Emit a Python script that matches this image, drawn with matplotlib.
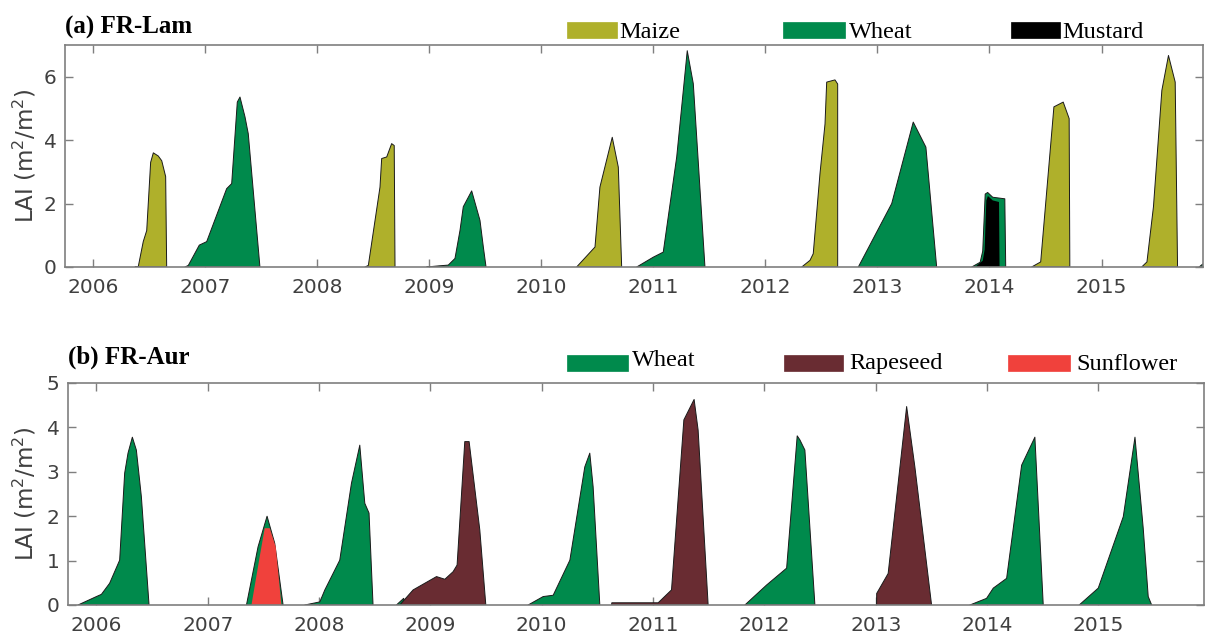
import numpy as np
import matplotlib
matplotlib.use("Agg")
import matplotlib.pyplot as plt
from matplotlib.patches import Rectangle

nan = np.nan

# ---------------- (a) FR-Lam : decimal year / LAI (m2/m2) ----------------
lam_maize_year = [2006.377, 2006.407, 2006.451, 2006.482, 2006.517, 2006.541, 2006.585, 2006.616, 2006.651, 2006.660, nan,
                  2008.429, 2008.459, 2008.563, 2008.578, 2008.623, 2008.667, 2008.690, 2008.697, nan,
                  2010.317, 2010.481, 2010.525, 2010.635, 2010.689, 2010.719, nan,
                  2012.325, 2012.399, 2012.428, 2012.488, 2012.533, 2012.548, 2012.622, 2012.646, nan,
                  2014.376, 2014.457, 2014.575, 2014.658, 2014.711, 2014.717, nan,
                  2015.358, 2015.405, 2015.463, 2015.538, 2015.597, 2015.657, 2015.678]
lam_maize_lai = [0.0, 0.02, 0.8, 1.15, 3.3, 3.6, 3.5, 3.35, 2.85, 0.0, nan,
                 0.0, 0.05, 2.52, 3.42, 3.47, 3.89, 3.83, 0.0, nan,
                 0.0, 0.63, 2.52, 4.09, 3.15, 0.0, nan,
                 0.0, 0.21, 0.42, 2.94, 4.51, 5.83, 5.9, 5.77, nan,
                 0.0, 0.16, 5.05, 5.2, 4.68, 0.0, nan,
                 0.0, 0.16, 1.9, 5.57, 6.67, 5.83, 0.0]

lam_wheat_year = [2006.823, 2006.853, 2006.951, 2007.017, 2007.195, 2007.240, 2007.290, 2007.314, 2007.359, 2007.388, 2007.492, nan,
                  2008.979, 2009.069, 2009.172, 2009.232, 2009.277, 2009.306, 2009.381, 2009.455, 2009.485, 2009.509, nan,
                  2010.853, 2011.001, 2011.090, 2011.210, 2011.304, 2011.358, 2011.462, nan,
                  2012.830, 2013.128, 2013.320, 2013.433, 2013.529, nan,
                  2013.842, 2013.917, 2013.940, 2013.962, 2013.984, 2014.029, 2014.137, 2014.145, nan,
                  2015.870, 2015.905]
lam_wheat_lai = [0.0, 0.05, 0.69, 0.8, 2.47, 2.63, 5.2, 5.36, 4.73, 4.2, 0.0, nan,
                 0.0, 0.03, 0.06, 0.27, 1.16, 1.9, 2.4, 1.47, 0.63, 0.0, nan,
                 0.0, 0.31, 0.47, 3.47, 6.82, 5.78, 0.0, nan,
                 0.0, 2.0, 4.57, 3.78, 0.0, nan,
                 0.0, 0.15, 0.5, 2.3, 2.35, 2.2, 2.15, 0.0, nan,
                 0.0, 0.1]

lam_mustard_year = [2013.872, 2013.940, 2013.957, 2013.972, 2013.986, 2014.029, 2014.085, 2014.090]
lam_mustard_lai = [0.0, 0.2, 0.55, 2.1, 2.24, 2.1, 2.05, 0.0]

# ---------------- (b) FR-Aur ----------------
aur_wheat_year = [2005.835, 2006.000, 2006.045, 2006.119, 2006.209, 2006.254, 2006.284, 2006.323, 2006.359, 2006.404, 2006.473, nan,
                  2007.348, 2007.452, 2007.533, 2007.602, 2007.677, nan,
                  2007.872, 2008.007, 2008.052, 2008.186, 2008.291, 2008.366, 2008.411, 2008.449, 2008.485, nan,
                  2008.695, 2008.760, 2008.770, nan,
                  2009.878, 2010.013, 2010.103, 2010.253, 2010.387, 2010.432, 2010.462, 2010.522, nan,
                  2011.825, 2012.020, 2012.200, 2012.295, 2012.319, 2012.364, 2012.454, nan,
                  2013.846, 2013.996, 2014.056, 2014.176, 2014.311, 2014.430, 2014.505, nan,
                  2014.828, 2014.999, 2015.224, 2015.329, 2015.403, 2015.448, 2015.479]
aur_wheat_lai = [0.0, 0.19, 0.24, 0.49, 1.01, 2.97, 3.42, 3.78, 3.49, 2.44, 0.0, nan,
                 0.0, 1.31, 2.0, 1.39, 0.0, nan,
                 0.0, 0.07, 0.34, 1.01, 2.74, 3.6, 2.29, 2.07, 0.0, nan,
                 0.0, 0.15, 0.0, nan,
                 0.0, 0.19, 0.22, 1.01, 3.11, 3.42, 2.66, 0.0, nan,
                 0.0, 0.45, 0.83, 3.81, 3.72, 3.49, 0.0, nan,
                 0.0, 0.15, 0.38, 0.6, 3.15, 3.78, 0.0, nan,
                 0.0, 0.38, 1.99, 3.78, 1.73, 0.19, 0.0]

aur_rapeseed_year = [2008.725, 2008.845, 2009.055, 2009.130, 2009.204, 2009.240, 2009.309, 2009.348, 2009.444, 2009.498, nan,
                     2010.627, 2010.630, 2011.046, 2011.166, 2011.277, 2011.369, 2011.405, 2011.495, nan,
                     2013.008, 2013.009, 2013.112, 2013.278, 2013.352, 2013.502]
aur_rapeseed_lai = [0.0, 0.34, 0.64, 0.58, 0.75, 0.9, 3.68, 3.68, 1.69, 0.0, nan,
                    0.0, 0.05, 0.05, 0.34, 4.17, 4.63, 3.94, 0.0, nan,
                    0.0, 0.26, 0.71, 4.47, 3.11, 0.0]

aur_sunflower_year = [2007.393, 2007.467, 2007.512, 2007.557, 2007.611, 2007.662]
aur_sunflower_lai = [0.0, 1.09, 1.73, 1.73, 1.31, 0.0]

years_ticks = list(range(2006, 2016))

C_MAIZE = '#AFB02B'
C_WHEAT = '#008A4C'
C_MUSTARD = '#000000'
C_RAPE = '#692C32'
C_SUN = '#F0413C'
GRAY = '#7f7f7f'
TXT = '#404040'

W, H = 1206, 635
fig = plt.figure(figsize=(W / 100, H / 100), dpi=100)

def make_ax(l, r, t, b):
    return fig.add_axes([l / W, 1 - b / H, (r - l) / W, (b - t) / H])

ax1 = make_ax(65, 1203, 45, 267)
ax2 = make_ax(68, 1204, 383, 605)

def fill(ax, x, y, color, edge=True):
    x = np.array(x, float)
    y = np.array(y, float)
    ax.fill_between(x, 0, y, facecolor=color,
                    edgecolor='#1a1a1a' if edge else 'none',
                    linewidth=0.7 if edge else 0, zorder=2)

fill(ax1, lam_maize_year, lam_maize_lai, C_MAIZE)
fill(ax1, lam_wheat_year, lam_wheat_lai, C_WHEAT)
fill(ax1, lam_mustard_year, lam_mustard_lai, C_MUSTARD, edge=False)

fill(ax2, aur_wheat_year, aur_wheat_lai, C_WHEAT)
fill(ax2, aur_rapeseed_year, aur_rapeseed_lai, C_RAPE)
fill(ax2, aur_sunflower_year, aur_sunflower_lai, C_SUN, edge=False)

ax1.set_xlim(2005.753, 2015.905)
ax1.set_ylim(0, 7)
ax1.set_yticks([0, 2, 4, 6])
ax2.set_xlim(2005.745, 2015.949)
ax2.set_ylim(0, 5)
ax2.set_yticks([0, 1, 2, 3, 4, 5])

for ax, lx in ((ax1, -0.0237), (ax2, -0.0264)):
    ax.set_xticks(years_ticks)
    ax.set_xticklabels([str(y) for y in years_ticks])
    ax.tick_params(axis='both', direction='in', length=6, width=1.0, color=GRAY,
                   labelsize=14.5, labelcolor=TXT, top=True, right=True)
    ax.tick_params(axis='x', pad=8)
    ax.tick_params(axis='y', pad=6)
    for s in ax.spines.values():
        s.set_color(GRAY)
        s.set_linewidth(1.2)
    ax.set_ylabel('LAI (m$^2$/m$^2$)', fontsize=16.5, color=TXT)
    ax.yaxis.set_label_coords(lx, 0.5)

serif = 'Liberation Serif'
ax1.text(0.0, 1.077, '(a) FR-Lam', transform=ax1.transAxes, fontsize=18,
         fontweight='bold', family=serif, ha='left', va='center')
ax2.text(0.0, 1.117, '(b) FR-Aur', transform=ax2.transAxes, fontsize=18,
         fontweight='bold', family=serif, ha='left', va='center')

def leg_item(ax, axes_top_px, axes_left_px, axes_w_px, axes_h_px, px0, px1, py0, py1, tx, tbase, label, color):
    x0 = (px0 - axes_left_px) / axes_w_px
    w = (px1 - px0) / axes_w_px
    y0 = (axes_top_px + axes_h_px - py1) / axes_h_px
    h = (py1 - py0) / axes_h_px
    ax.add_patch(Rectangle((x0, y0), w, h, transform=ax.transAxes, facecolor=color,
                           edgecolor=color, linewidth=0.5, clip_on=False))
    ax.text((tx - axes_left_px) / axes_w_px, (axes_top_px + axes_h_px - tbase) / axes_h_px, label,
            transform=ax.transAxes, fontsize=17.5, family=serif, ha='left', va='baseline')

# top legend
for p0, p1, tx, lab, col in [(567, 617, 619, 'Maize', C_MAIZE),
                             (783, 845, 849, 'Wheat', C_WHEAT),
                             (1011, 1060, 1062, 'Mustard', C_MUSTARD)]:
    leg_item(ax1, 45, 65, 1138, 222, p0, p1, 22, 38, tx, 37.5, lab, col)

# bottom legend
for p0, p1, tx, tb, lab, col in [(567, 628, 632, 365.5, 'Wheat', C_WHEAT),
                                 (784, 843, 849, 369.5, 'Rapeseed', C_RAPE),
                                 (1008, 1070, 1076, 369.5, 'Sunflower', C_SUN)]:
    leg_item(ax2, 383, 68, 1136, 222, p0, p1, 355, 371, tx, tb, lab, col)

fig.savefig('out.png', dpi=100)
